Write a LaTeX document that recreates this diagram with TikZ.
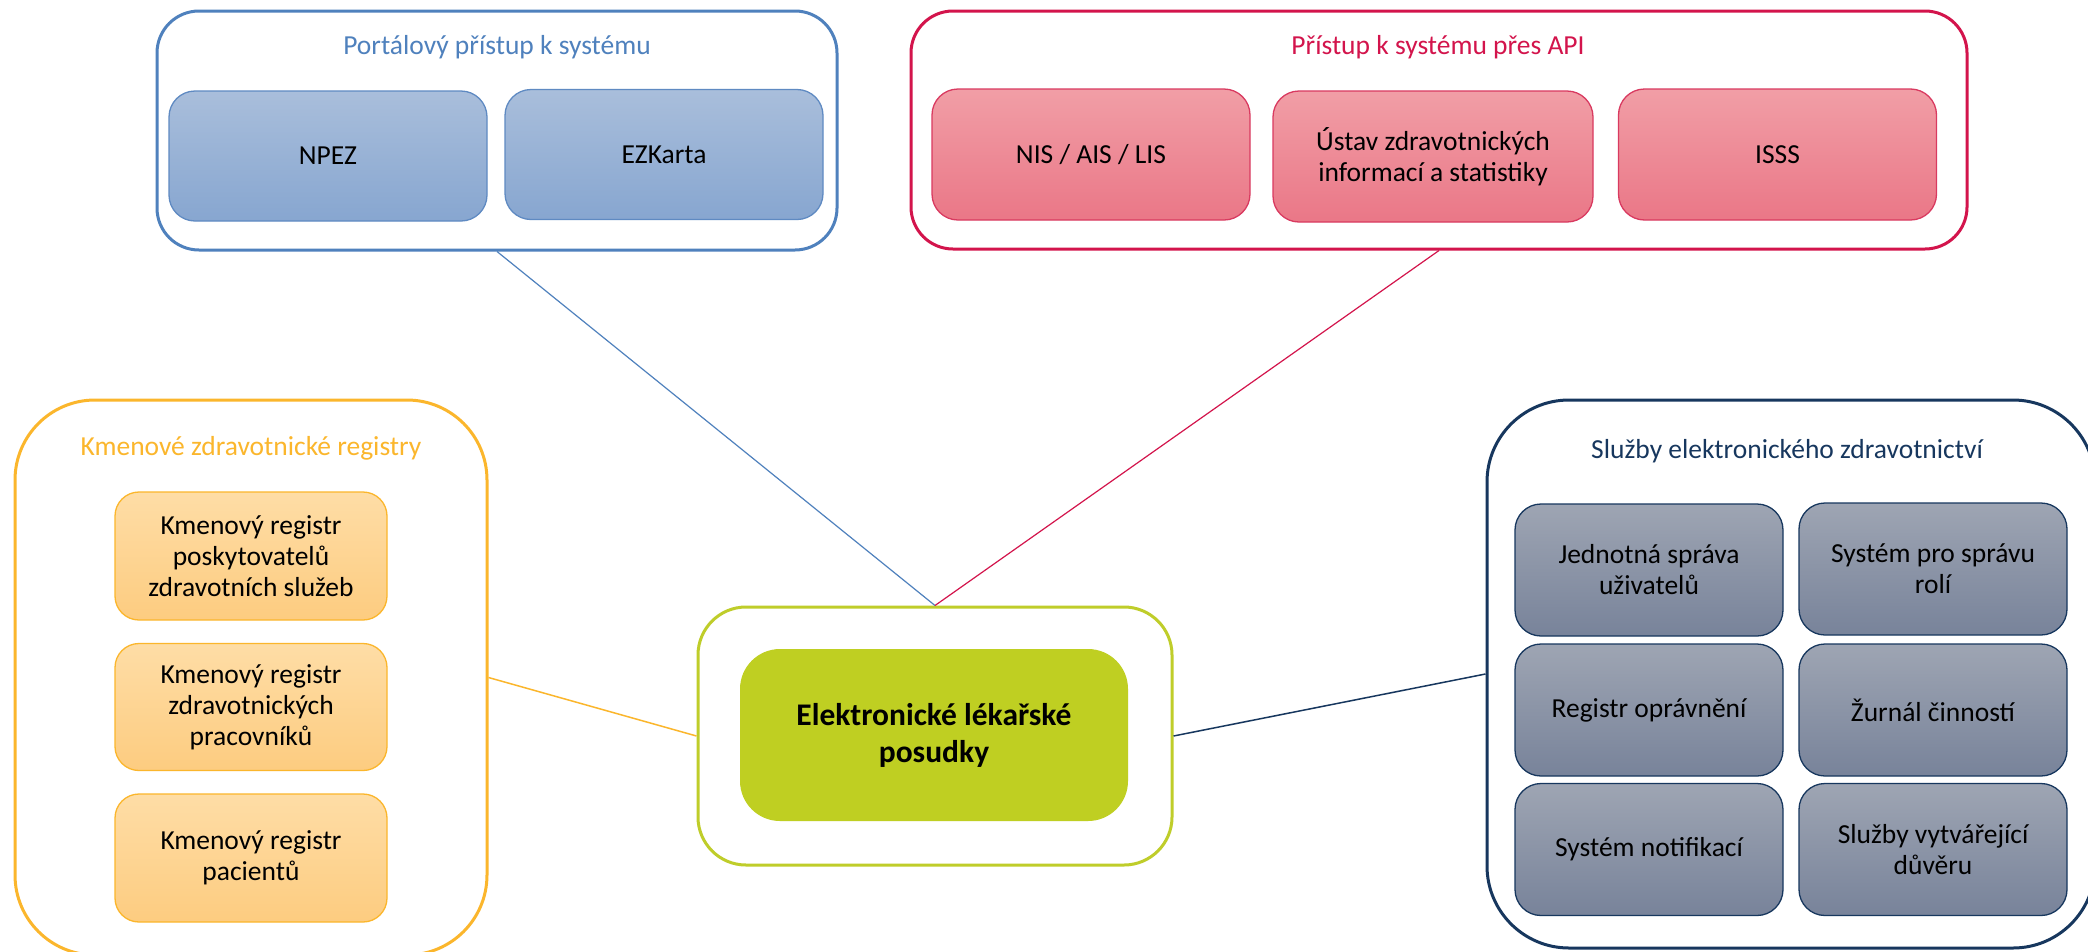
\documentclass[tikz,border=0pt]{standalone}
\usepackage{fontspec}
\setmainfont{Carlito}
\definecolor{cblue}{HTML}{4F81BD}
\definecolor{cbluetop}{HTML}{A9BEDB}
\definecolor{cbluebot}{HTML}{87A6D0}
\definecolor{cblueedge}{HTML}{5F8AC2}
\definecolor{cred}{HTML}{D3144C}
\definecolor{credtop}{HTML}{F19EA6}
\definecolor{credbot}{HTML}{EA7787}
\definecolor{crededge}{HTML}{D93A60}
\definecolor{corange}{HTML}{FBB62C}
\definecolor{corangetop}{HTML}{FEDDA6}
\definecolor{corangebot}{HTML}{FDCC80}
\definecolor{cgreen}{HTML}{BFCD2A}
\definecolor{cgreenfill}{HTML}{BFCF22}
\definecolor{cnavy}{HTML}{17375E}
\definecolor{cnavytop}{HTML}{9EA5B3}
\definecolor{cnavybot}{HTML}{78839A}
\begin{document}
\begin{tikzpicture}[x=1pt,y=-1pt,
  txt/.style={font=\fontsize{27.5}{31}\selectfont, align=center},
  group/.style={draw=#1, line width=3pt, fill=white, inner sep=0pt},
  title/.style={txt, text=#1},
  bluebox/.style={txt, draw=cblueedge, line width=1.3pt, top color=cbluetop, bottom color=cbluebot, rounded corners=26pt, inner sep=0pt, minimum width=318pt, minimum height=130pt},
  redbox/.style={txt, draw=crededge, line width=1.3pt, top color=credtop, bottom color=credbot, rounded corners=26pt, inner sep=0pt, minimum width=318pt, minimum height=131pt},
  orabox/.style={txt, draw=corange, line width=1.3pt, top color=corangetop, bottom color=corangebot, rounded corners=24pt, inner sep=0pt, minimum width=272pt, minimum height=127pt},
  navybox/.style={txt, draw=cnavy, line width=1.3pt, top color=cnavytop, bottom color=cnavybot, rounded corners=26pt, inner sep=0pt, minimum width=268pt, minimum height=132pt},
  link/.style={draw=#1, line width=1.2pt}
]
\clip (0,0) rectangle (2088,951);
\fill[white] (0,0) rectangle (2088,951);

% Portal group
\node[group=cblue, rounded corners=42pt, minimum width=680pt, minimum height=239pt] (blueg) at (497,130.5) {};
\node[title=cblue] (bluet) at (497,47) {Portálový přístup k systému};
\node[bluebox] (npez) at (328,156) {NPEZ};
\node[bluebox] (ezk) at (664,154.5) {EZKarta};

% API group
\node[group=cred, rounded corners=42pt, minimum width=1056pt, minimum height=238pt] (redg) at (1439,130) {};
\node[title=cred] (redt) at (1438,47) {Přístup k systému přes API};
\node[redbox] (nis) at (1091,154.5) {NIS / AIS / LIS};
\node[redbox, minimum width=320pt] (uzis) at (1433,156.5) {Ústav zdravotnických\\informací a statistiky};
\node[redbox] (isss) at (1777.5,154.5) {ISSS};

% Registry group
\node[group=corange, rounded corners=80pt, minimum width=472pt, minimum height=555pt] (orag) at (251,677.5) {};
\node[title=corange] (orat) at (251,448) {Kmenové zdravotnické registry};
\node[orabox, minimum height=128pt] (krpzs) at (251,556) {Kmenový registr\\poskytovatelů\\zdravotních služeb};
\node[orabox] (krzp) at (251,707) {Kmenový registr\\zdravotnických\\pracovníků};
\node[orabox, minimum height=128pt] (krp) at (251,858) {Kmenový registr\\pacientů};

% Services group
\node[group=cnavy, rounded corners=82pt, minimum width=608pt, minimum height=548pt] (navyg) at (1791,674) {};
\node[title=cnavy] (navyt) at (1787,451) {Služby elektronického zdravotnictví};
\node[navybox] (jsu) at (1649,570) {Jednotná správa\\uživatelů};
\node[navybox] (spsr) at (1933,569) {Systém pro správu\\rolí};
\node[navybox] (ro) at (1649,710) {Registr oprávnění};
\node[navybox] (zc) at (1933,710) {Žurnál činností};
\node[navybox] (sn) at (1649,849.5) {Systém notifikací};
\node[navybox] (svd) at (1933,849.5) {Služby vytvářející\\důvěru};

% Central group
\node[group=cgreen, rounded corners=48pt, minimum width=474pt, minimum height=258pt] (green) at (935,736) {};
\node[txt, font=\fontsize{31.5}{37}\selectfont\bfseries, fill=cgreenfill, rounded corners=40pt, inner sep=0pt, minimum width=388pt, minimum height=172pt] (elp) at (934,735) {Elektronické lékařské\\posudky};

% connectors
\draw[link=cblue] (blueg.south) -- (green.north);
\draw[link=cred] (redg.south) -- (green.north);
\draw[link=corange, line width=1.5pt] (orag.east) -- (green.west);
\draw[link=cnavy, line width=1.5pt] (navyg.west) -- (green.east);
\end{tikzpicture}
\end{document}
